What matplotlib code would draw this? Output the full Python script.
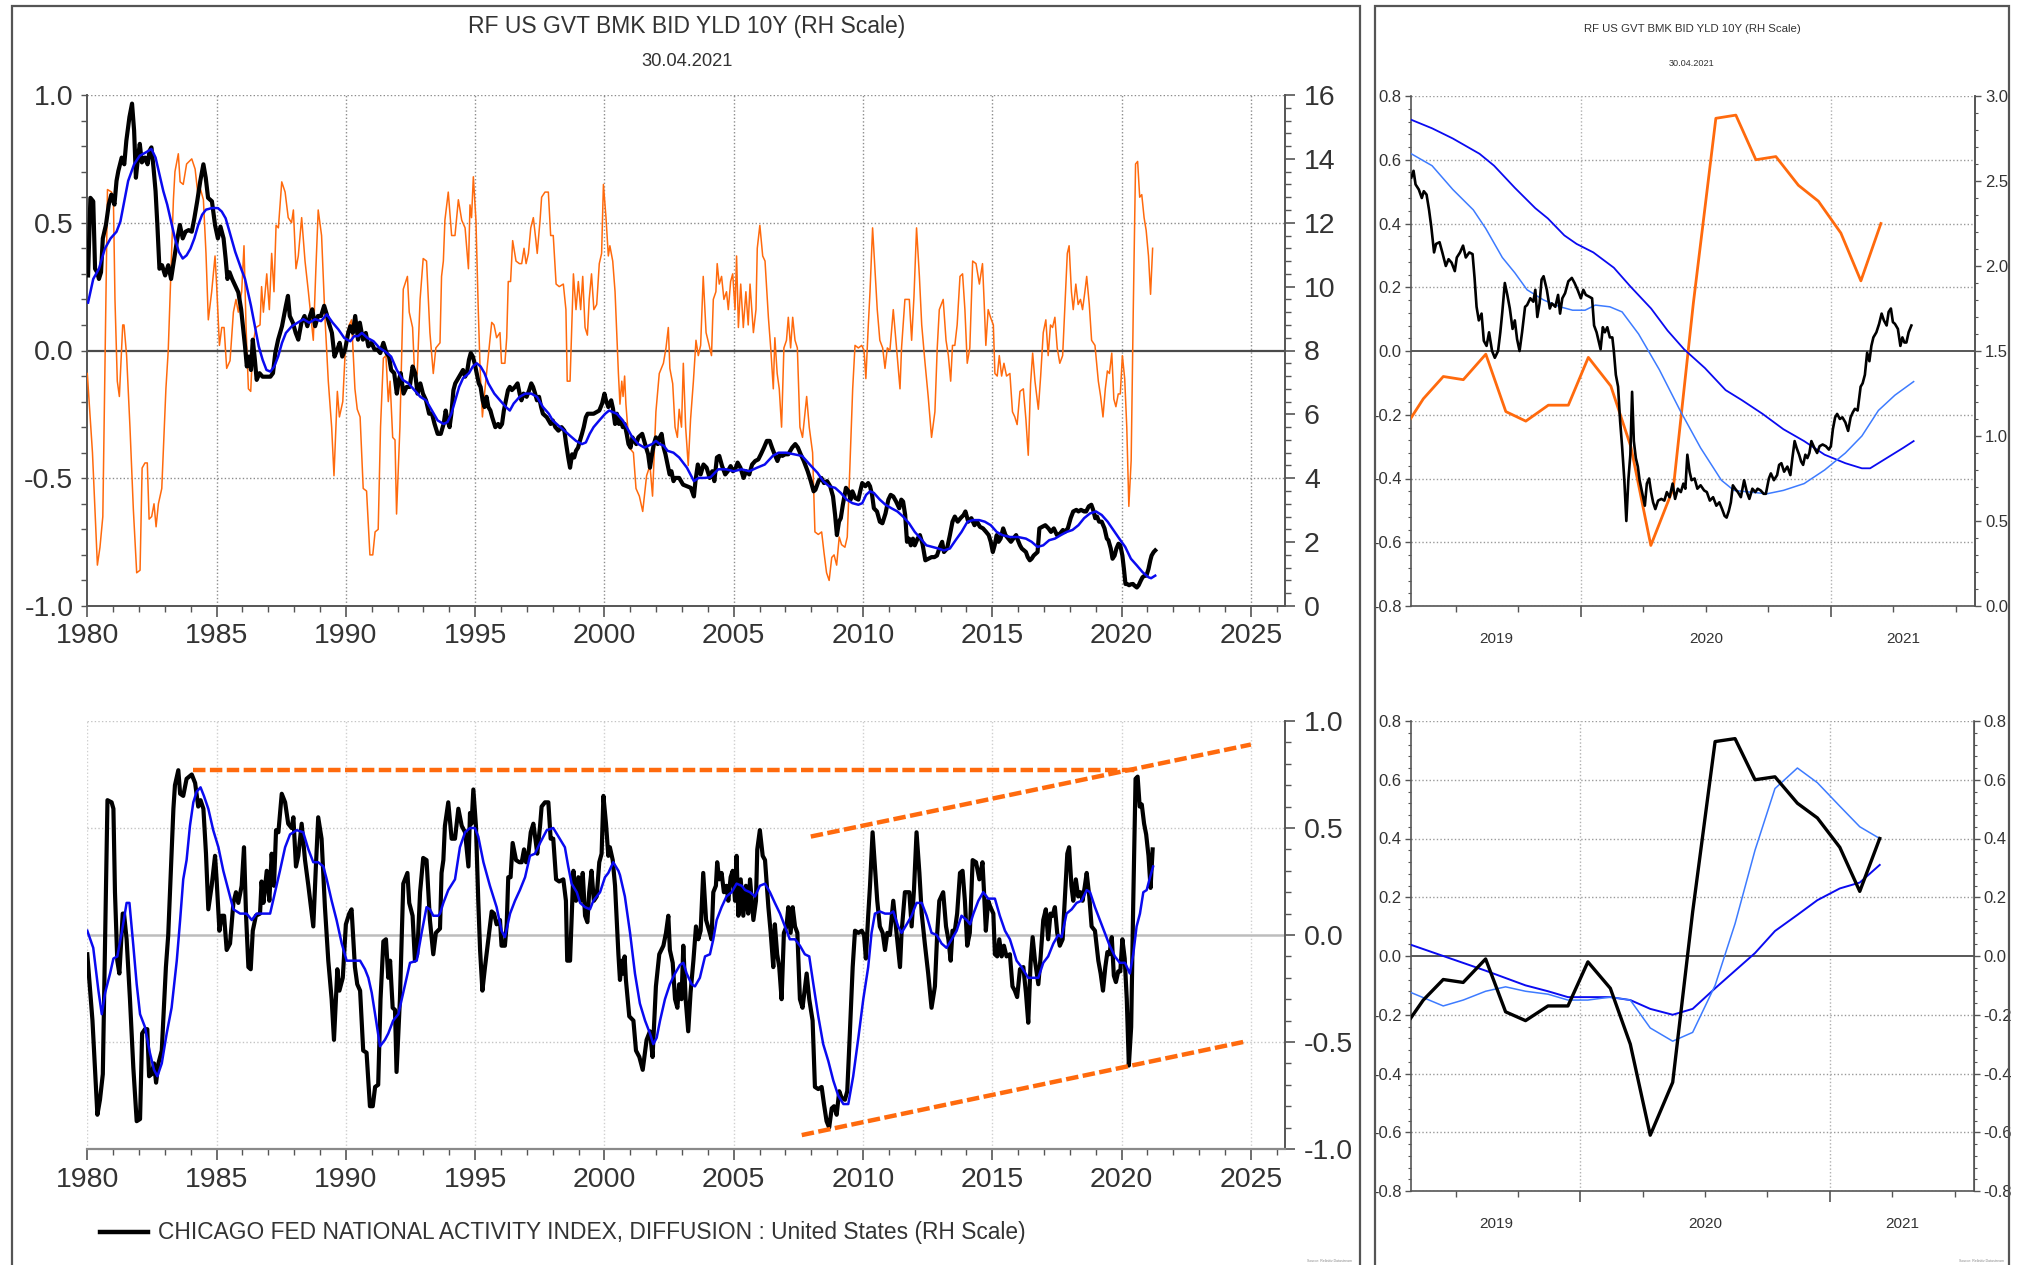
import matplotlib
matplotlib.use('Agg')
import matplotlib.pyplot as plt
from matplotlib.patches import Rectangle
from matplotlib.ticker import MultipleLocator, FixedLocator, NullFormatter

# ---------------- data ----------------
# Chicago Fed National Activity Index, diffusion (decimal year, value)
cfnai = [
    (1980.00, -0.09), (1980.20, -0.40), (1980.39, -0.84), (1980.49, -0.77), (1980.60, -0.65),
    (1980.78, 0.63), (1980.94, 0.62), (1981.01, 0.59), (1981.07, 0.20), (1981.16, -0.12),
    (1981.24, -0.18), (1981.29, -0.07), (1981.37, 0.10), (1981.42, 0.10), (1981.52, -0.02),
    (1981.65, -0.30), (1981.78, -0.62), (1981.91, -0.87), (1982.04, -0.86), (1982.12, -0.46),
    (1982.23, -0.44), (1982.32, -0.44), (1982.39, -0.66), (1982.49, -0.65), (1982.58, -0.60),
    (1982.66, -0.69), (1982.75, -0.60), (1982.88, -0.54), (1983.04, -0.15), (1983.13, 0.00),
    (1983.22, 0.27), (1983.33, 0.59), (1983.39, 0.70), (1983.52, 0.77), (1983.59, 0.66),
    (1983.71, 0.65), (1983.84, 0.73), (1984.04, 0.75), (1984.17, 0.71), (1984.29, 0.60),
    (1984.38, 0.63), (1984.49, 0.59), (1984.59, 0.38), (1984.68, 0.12), (1984.81, 0.23),
    (1984.94, 0.37), (1985.00, 0.26), (1985.11, 0.02), (1985.20, 0.09), (1985.29, 0.09),
    (1985.39, -0.07), (1985.52, -0.04), (1985.65, 0.15), (1985.75, 0.20), (1985.84, 0.15),
    (1985.97, 0.23), (1986.06, 0.41), (1986.14, 0.09), (1986.23, -0.15), (1986.32, -0.16),
    (1986.40, 0.02), (1986.52, 0.09), (1986.68, 0.10), (1986.74, 0.25), (1986.81, 0.15),
    (1986.94, 0.30), (1987.04, 0.16), (1987.13, 0.38), (1987.22, 0.23), (1987.30, 0.49),
    (1987.39, 0.48), (1987.52, 0.66), (1987.65, 0.62), (1987.77, 0.52), (1987.90, 0.50),
    (1987.97, 0.55), (1988.07, 0.32), (1988.16, 0.37), (1988.29, 0.52), (1988.42, 0.35),
    (1988.55, 0.23), (1988.74, 0.04), (1988.84, 0.32), (1988.93, 0.55), (1989.06, 0.45),
    (1989.19, 0.13), (1989.32, -0.12), (1989.45, -0.30), (1989.54, -0.49), (1989.67, -0.16),
    (1989.75, -0.26), (1989.88, -0.20), (1990.00, 0.05), (1990.13, 0.10), (1990.22, 0.12),
    (1990.35, -0.15), (1990.44, -0.23), (1990.55, -0.26), (1990.67, -0.54), (1990.80, -0.55),
    (1990.93, -0.80), (1991.04, -0.80), (1991.13, -0.71), (1991.25, -0.70), (1991.34, -0.30),
    (1991.45, -0.03), (1991.55, -0.02), (1991.64, -0.20), (1991.71, -0.12), (1991.81, -0.34),
    (1991.90, -0.35), (1991.96, -0.64), (1992.09, -0.30), (1992.22, 0.24), (1992.38, 0.29),
    (1992.45, 0.15), (1992.58, 0.09), (1992.67, -0.12), (1992.76, -0.09), (1992.87, 0.20),
    (1992.99, 0.36), (1993.12, 0.35), (1993.25, 0.07), (1993.38, -0.09), (1993.48, 0.01),
    (1993.64, 0.03), (1993.70, 0.29), (1993.77, 0.35), (1993.83, 0.51), (1993.96, 0.62),
    (1994.09, 0.45), (1994.22, 0.45), (1994.35, 0.59), (1994.48, 0.51), (1994.61, 0.48),
    (1994.74, 0.32), (1994.80, 0.57), (1994.86, 0.52), (1994.93, 0.68), (1995.03, 0.51),
    (1995.12, 0.16), (1995.19, -0.07), (1995.28, -0.26), (1995.38, -0.15), (1995.51, -0.02),
    (1995.64, 0.11), (1995.73, 0.10), (1995.83, 0.05), (1995.96, 0.07), (1996.02, -0.05),
    (1996.15, -0.05), (1996.22, 0.05), (1996.28, 0.27), (1996.37, 0.27), (1996.45, 0.43),
    (1996.58, 0.35), (1996.71, 0.34), (1996.80, 0.34), (1996.89, 0.40), (1996.97, 0.34),
    (1997.06, 0.38), (1997.15, 0.48), (1997.25, 0.52), (1997.35, 0.43), (1997.40, 0.38),
    (1997.51, 0.51), (1997.57, 0.60), (1997.70, 0.62), (1997.83, 0.62), (1997.92, 0.45),
    (1998.02, 0.45), (1998.13, 0.26), (1998.25, 0.25), (1998.41, 0.26), (1998.51, 0.16),
    (1998.56, -0.12), (1998.67, -0.12), (1998.80, 0.30), (1998.90, 0.16), (1998.99, 0.27),
    (1999.08, 0.16), (1999.16, 0.29), (1999.25, 0.09), (1999.34, 0.06), (1999.41, 0.20),
    (1999.50, 0.30), (1999.59, 0.16), (1999.70, 0.18), (1999.80, 0.34), (1999.89, 0.38),
    (1999.96, 0.65), (2000.06, 0.52), (2000.15, 0.37), (2000.21, 0.41), (2000.32, 0.35),
    (2000.41, 0.23), (2000.54, -0.09), (2000.60, -0.21), (2000.67, -0.12), (2000.72, -0.18),
    (2000.78, -0.10), (2000.83, -0.21), (2000.96, -0.38), (2001.12, -0.40), (2001.22, -0.54),
    (2001.35, -0.57), (2001.48, -0.63), (2001.63, -0.49), (2001.76, -0.45), (2001.86, -0.57),
    (2001.99, -0.24), (2002.12, -0.09), (2002.28, -0.05), (2002.38, 0.01), (2002.47, 0.09),
    (2002.53, -0.07), (2002.64, -0.13), (2002.73, -0.30), (2002.82, -0.34), (2002.89, -0.23),
    (2002.98, -0.30), (2003.05, -0.05), (2003.14, -0.30), (2003.24, -0.45), (2003.33, -0.27),
    (2003.44, -0.12), (2003.54, 0.04), (2003.63, -0.02), (2003.72, 0.02), (2003.82, 0.29),
    (2003.93, 0.07), (2004.05, 0.02), (2004.14, -0.02), (2004.21, 0.20), (2004.31, 0.23),
    (2004.36, 0.34), (2004.44, 0.26), (2004.53, 0.29), (2004.62, 0.20), (2004.72, 0.23),
    (2004.79, 0.16), (2004.88, 0.27), (2004.96, 0.30), (2005.05, 0.16), (2005.11, 0.37),
    (2005.18, 0.09), (2005.27, 0.26), (2005.37, 0.09), (2005.47, 0.23), (2005.56, 0.10),
    (2005.63, 0.26), (2005.76, 0.07), (2005.86, 0.16), (2005.91, 0.40), (2006.01, 0.49),
    (2006.12, 0.37), (2006.21, 0.35), (2006.34, 0.13), (2006.43, 0.01), (2006.53, -0.15),
    (2006.59, 0.05), (2006.68, -0.09), (2006.76, -0.15), (2006.85, -0.30), (2006.94, 0.01),
    (2007.04, 0.04), (2007.11, 0.13), (2007.20, 0.01), (2007.28, 0.13), (2007.37, 0.04),
    (2007.46, 0.01), (2007.56, -0.30), (2007.66, -0.34), (2007.82, -0.18), (2007.92, -0.30),
    (2008.05, -0.40), (2008.14, -0.71), (2008.27, -0.72), (2008.40, -0.71), (2008.49, -0.79),
    (2008.59, -0.87), (2008.69, -0.90), (2008.79, -0.81), (2008.88, -0.80), (2008.98, -0.84),
    (2009.08, -0.73), (2009.17, -0.76), (2009.30, -0.77), (2009.39, -0.73), (2009.49, -0.46),
    (2009.60, -0.15), (2009.69, 0.02), (2009.82, 0.01), (2009.95, 0.02), (2010.04, 0.00),
    (2010.11, -0.11), (2010.20, 0.09), (2010.27, 0.23), (2010.37, 0.48), (2010.46, 0.32),
    (2010.55, 0.16), (2010.65, 0.04), (2010.76, 0.01), (2010.85, -0.07), (2010.94, 0.01),
    (2011.04, 0.00), (2011.17, 0.16), (2011.27, 0.04), (2011.43, -0.15), (2011.49, 0.01),
    (2011.62, 0.20), (2011.79, 0.20), (2011.88, 0.04), (2011.97, 0.21), (2012.07, 0.48),
    (2012.18, 0.29), (2012.27, 0.10), (2012.39, -0.04), (2012.52, -0.18), (2012.65, -0.34),
    (2012.78, -0.24), (2012.87, 0.01), (2012.95, 0.16), (2013.10, 0.20), (2013.21, 0.04),
    (2013.30, -0.02), (2013.39, -0.12), (2013.46, 0.02), (2013.55, 0.02), (2013.64, 0.10),
    (2013.75, 0.29), (2013.85, 0.30), (2013.94, 0.16), (2014.03, -0.05), (2014.13, 0.01),
    (2014.24, 0.35), (2014.37, 0.34), (2014.50, 0.26), (2014.62, 0.34), (2014.68, 0.20),
    (2014.75, 0.02), (2014.84, 0.16), (2014.93, 0.13), (2015.04, 0.10), (2015.10, -0.09),
    (2015.19, -0.10), (2015.27, -0.02), (2015.36, -0.10), (2015.45, -0.05), (2015.55, -0.10),
    (2015.68, -0.09), (2015.78, -0.24), (2015.87, -0.26), (2015.96, -0.29), (2016.07, -0.16),
    (2016.20, -0.15), (2016.30, -0.27), (2016.39, -0.41), (2016.48, -0.13), (2016.56, -0.01),
    (2016.65, -0.12), (2016.78, -0.23), (2016.87, -0.10), (2016.97, 0.07), (2017.07, 0.12),
    (2017.16, -0.02), (2017.25, 0.10), (2017.33, 0.09), (2017.42, 0.13), (2017.51, 0.01),
    (2017.61, -0.05), (2017.72, -0.02), (2017.81, 0.18), (2017.90, 0.38), (2017.97, 0.41),
    (2018.06, 0.23), (2018.13, 0.16), (2018.23, 0.26), (2018.32, 0.18), (2018.41, 0.20),
    (2018.49, 0.16), (2018.58, 0.23), (2018.65, 0.29), (2018.75, 0.18), (2018.84, 0.04),
    (2018.97, 0.02), (2019.10, -0.12), (2019.19, -0.18), (2019.28, -0.26), (2019.37, -0.15),
    (2019.45, -0.08), (2019.53, -0.09), (2019.62, -0.01), (2019.70, -0.19), (2019.78, -0.22),
    (2019.87, -0.17), (2019.95, -0.17), (2020.03, -0.02), (2020.12, -0.11), (2020.20, -0.30),
    (2020.28, -0.61), (2020.37, -0.43), (2020.45, 0.15), (2020.54, 0.73), (2020.62, 0.74),
    (2020.70, 0.60), (2020.78, 0.61), (2020.87, 0.52), (2020.95, 0.47), (2021.04, 0.37),
    (2021.12, 0.22), (2021.20, 0.40),
]

# blue smoothed line of the lower-left panel
cfnai_ma = [
    (1980.00, 0.02), (1980.23, -0.06), (1980.43, -0.26), (1980.56, -0.37), (1980.69, -0.27),
    (1980.88, -0.18), (1981.01, -0.11), (1981.16, -0.10), (1981.33, 0.01), (1981.52, 0.15),
    (1981.63, 0.15), (1981.78, -0.05), (1981.91, -0.23), (1982.04, -0.37), (1982.23, -0.43),
    (1982.42, -0.55), (1982.58, -0.63), (1982.71, -0.66), (1982.88, -0.60), (1983.07, -0.46),
    (1983.26, -0.34), (1983.46, -0.12), (1983.59, 0.07), (1983.71, 0.26), (1983.84, 0.35),
    (1983.97, 0.51), (1984.10, 0.62), (1984.23, 0.67), (1984.38, 0.69), (1984.51, 0.65),
    (1984.68, 0.59), (1984.87, 0.49), (1985.07, 0.41), (1985.26, 0.30), (1985.39, 0.24),
    (1985.52, 0.18), (1985.65, 0.12), (1985.91, 0.10), (1986.16, 0.10), (1986.36, 0.07),
    (1986.55, 0.10), (1986.87, 0.10), (1987.07, 0.10), (1987.26, 0.20), (1987.45, 0.30),
    (1987.65, 0.41), (1987.84, 0.47), (1988.10, 0.49), (1988.35, 0.48), (1988.55, 0.40),
    (1988.74, 0.34), (1988.93, 0.34), (1989.13, 0.32), (1989.26, 0.26), (1989.45, 0.16),
    (1989.64, 0.07), (1989.84, -0.04), (1990.03, -0.12), (1990.29, -0.12), (1990.55, -0.12),
    (1990.74, -0.16), (1990.87, -0.20), (1991.00, -0.27), (1991.13, -0.37), (1991.32, -0.52),
    (1991.51, -0.49), (1991.64, -0.46), (1991.83, -0.40), (1992.03, -0.37), (1992.16, -0.30),
    (1992.29, -0.23), (1992.48, -0.13), (1992.74, -0.12), (1992.93, 0.01), (1993.12, 0.13),
    (1993.25, 0.12), (1993.38, 0.09), (1993.57, 0.09), (1993.64, 0.10), (1993.77, 0.15),
    (1993.96, 0.21), (1994.22, 0.26), (1994.41, 0.41), (1994.61, 0.48), (1994.80, 0.50),
    (1994.99, 0.50), (1995.12, 0.46), (1995.32, 0.34), (1995.57, 0.23), (1995.83, 0.13),
    (1996.02, 0.02), (1996.15, -0.01), (1996.35, 0.10), (1996.54, 0.16), (1996.73, 0.21),
    (1996.93, 0.27), (1997.12, 0.37), (1997.31, 0.38), (1997.51, 0.43), (1997.77, 0.49),
    (1998.02, 0.50), (1998.22, 0.46), (1998.47, 0.41), (1998.60, 0.32), (1998.73, 0.24),
    (1998.93, 0.20), (1999.06, 0.15), (1999.25, 0.13), (1999.44, 0.12), (1999.57, 0.16),
    (1999.83, 0.20), (2000.02, 0.27), (2000.15, 0.29), (2000.34, 0.34), (2000.54, 0.30),
    (2000.60, 0.28), (2000.79, 0.18), (2000.99, 0.01), (2001.18, -0.18), (2001.37, -0.32),
    (2001.57, -0.40), (2001.76, -0.46), (2001.89, -0.51), (2002.02, -0.48), (2002.15, -0.40),
    (2002.34, -0.30), (2002.53, -0.23), (2002.73, -0.18), (2002.92, -0.14), (2003.05, -0.13),
    (2003.18, -0.18), (2003.37, -0.23), (2003.50, -0.24), (2003.69, -0.20), (2003.89, -0.10),
    (2004.08, -0.09), (2004.21, -0.02), (2004.34, 0.07), (2004.53, 0.13), (2004.72, 0.18),
    (2004.92, 0.20), (2005.11, 0.24), (2005.31, 0.23), (2005.44, 0.21), (2005.63, 0.20),
    (2005.82, 0.18), (2006.01, 0.23), (2006.21, 0.24), (2006.40, 0.20), (2006.59, 0.15),
    (2006.79, 0.10), (2006.98, 0.04), (2007.17, -0.02), (2007.37, -0.02), (2007.56, -0.05),
    (2007.75, -0.09), (2007.92, -0.10), (2008.08, -0.23), (2008.27, -0.38), (2008.46, -0.51),
    (2008.66, -0.59), (2008.85, -0.68), (2009.04, -0.75), (2009.24, -0.79), (2009.43, -0.79),
    (2009.62, -0.66), (2009.82, -0.48), (2010.01, -0.30), (2010.20, -0.15), (2010.33, 0.01),
    (2010.46, 0.10), (2010.65, 0.11), (2010.85, 0.10), (2011.04, 0.10), (2011.17, 0.11),
    (2011.36, 0.04), (2011.49, 0.01), (2011.69, 0.05), (2011.88, 0.09), (2012.07, 0.15),
    (2012.27, 0.15), (2012.46, 0.09), (2012.65, 0.01), (2012.85, 0.00), (2013.04, -0.04),
    (2013.23, -0.06), (2013.43, -0.02), (2013.62, 0.02), (2013.81, 0.09), (2014.01, 0.07),
    (2014.14, 0.05), (2014.27, 0.10), (2014.46, 0.16), (2014.65, 0.20), (2014.84, 0.17),
    (2015.10, 0.17), (2015.29, 0.09), (2015.49, 0.02), (2015.68, -0.02), (2015.94, -0.12),
    (2016.13, -0.15), (2016.39, -0.20), (2016.58, -0.20), (2016.78, -0.20), (2016.97, -0.13),
    (2017.16, -0.10), (2017.36, -0.04), (2017.55, 0.00), (2017.68, -0.01), (2017.87, 0.10),
    (2018.07, 0.12), (2018.26, 0.15), (2018.45, 0.16), (2018.65, 0.21), (2018.78, 0.20),
    (2018.97, 0.13), (2019.16, 0.07), (2019.35, 0.01), (2019.54, -0.05), (2019.74, -0.10),
    (2019.93, -0.13), (2020.13, -0.13), (2020.32, -0.18), (2020.45, -0.09), (2020.58, 0.04),
    (2020.71, 0.10), (2020.84, 0.20), (2020.97, 0.21), (2021.10, 0.27), (2021.22, 0.32),
]

# US 10Y benchmark yield, % (upper-left panel, RH scale)
yld = [
    (1980.03, 10.35), (1980.12, 12.78), (1980.23, 12.67), (1980.30, 10.56), (1980.38, 10.45),
    (1980.45, 10.24), (1980.53, 10.45), (1980.60, 11.51), (1980.72, 11.93), (1980.83, 12.57),
    (1980.93, 12.88), (1981.05, 12.57), (1981.13, 13.31), (1981.20, 13.62), (1981.33, 14.04),
    (1981.43, 13.83), (1981.51, 14.57), (1981.63, 15.31), (1981.73, 15.73), (1981.81, 14.89),
    (1981.88, 13.41), (1981.96, 14.04), (1982.03, 14.47), (1982.11, 13.89), (1982.23, 14.04),
    (1982.33, 13.83), (1982.41, 14.26), (1982.48, 14.36), (1982.56, 13.73), (1982.64, 12.99),
    (1982.71, 11.93), (1982.79, 10.56), (1982.89, 10.67), (1983.01, 10.35), (1983.13, 10.67),
    (1983.24, 10.24), (1983.34, 10.77), (1983.46, 11.40), (1983.58, 11.93), (1983.69, 11.51),
    (1983.80, 11.72), (1983.92, 11.77), (1984.04, 11.72), (1984.14, 12.14), (1984.25, 12.67),
    (1984.37, 13.31), (1984.49, 13.83), (1984.58, 13.41), (1984.67, 12.78), (1984.82, 12.67),
    (1984.94, 11.93), (1985.05, 11.51), (1985.15, 11.88), (1985.27, 11.51), (1985.35, 10.88),
    (1985.42, 10.24), (1985.50, 10.45), (1985.60, 10.24), (1985.72, 10.03), (1985.84, 9.82),
    (1985.95, 9.29), (1986.02, 8.76), (1986.10, 8.13), (1986.17, 7.50), (1986.25, 7.81),
    (1986.33, 7.39), (1986.40, 8.34), (1986.48, 7.71), (1986.55, 7.08), (1986.66, 7.29),
    (1986.78, 7.18), (1986.93, 7.18), (1987.08, 7.18), (1987.18, 7.29), (1987.27, 7.92),
    (1987.38, 8.34), (1987.53, 8.76), (1987.68, 9.40), (1987.76, 9.71), (1987.83, 9.08),
    (1987.95, 8.87), (1988.06, 8.55), (1988.16, 8.34), (1988.28, 8.87), (1988.40, 9.08),
    (1988.51, 8.76), (1988.61, 9.08), (1988.70, 9.29), (1988.81, 8.76), (1988.92, 9.08),
    (1989.04, 9.08), (1989.16, 9.40), (1989.26, 9.13), (1989.34, 8.87), (1989.46, 8.55),
    (1989.56, 7.81), (1989.67, 8.03), (1989.76, 8.24), (1989.86, 7.81), (1989.97, 8.03),
    (1990.09, 8.55), (1990.17, 8.76), (1990.27, 8.55), (1990.36, 9.08), (1990.47, 8.34),
    (1990.54, 8.87), (1990.66, 8.34), (1990.77, 8.55), (1990.87, 8.13), (1990.99, 8.24),
    (1991.11, 8.03), (1991.22, 8.03), (1991.33, 7.92), (1991.45, 8.24), (1991.57, 7.92),
    (1991.67, 7.81), (1991.75, 7.39), (1991.87, 7.29), (1991.97, 6.65), (1992.05, 7.08),
    (1992.12, 7.29), (1992.23, 6.65), (1992.35, 6.86), (1992.47, 6.86), (1992.58, 7.50),
    (1992.68, 7.29), (1992.77, 6.65), (1992.88, 6.97), (1992.98, 6.65), (1993.10, 6.44),
    (1993.22, 6.02), (1993.33, 6.02), (1993.43, 5.70), (1993.55, 5.39), (1993.67, 5.39),
    (1993.78, 5.70), (1993.86, 6.12), (1993.93, 5.81), (1994.01, 5.60), (1994.08, 6.02),
    (1994.16, 6.76), (1994.23, 6.97), (1994.31, 7.08), (1994.38, 7.18), (1994.46, 7.29),
    (1994.53, 7.39), (1994.61, 7.18), (1994.68, 7.29), (1994.76, 7.71), (1994.83, 7.92),
    (1994.91, 7.81), (1994.98, 7.60), (1995.06, 7.29), (1995.14, 6.97), (1995.21, 6.86),
    (1995.29, 6.44), (1995.36, 6.23), (1995.44, 6.55), (1995.51, 6.23), (1995.59, 6.12),
    (1995.66, 5.91), (1995.78, 5.60), (1995.89, 5.70), (1995.96, 5.60), (1996.04, 5.70),
    (1996.11, 6.12), (1996.19, 6.44), (1996.27, 6.76), (1996.34, 6.86), (1996.42, 6.76),
    (1996.54, 6.86), (1996.64, 6.97), (1996.72, 6.65), (1996.79, 6.44), (1996.87, 6.65),
    (1996.99, 6.55), (1997.09, 6.76), (1997.17, 6.97), (1997.24, 6.86), (1997.32, 6.65),
    (1997.39, 6.44), (1997.47, 6.55), (1997.55, 6.23), (1997.62, 6.02), (1997.77, 5.91),
    (1997.92, 5.70), (1998.00, 5.81), (1998.10, 5.60), (1998.22, 5.49), (1998.34, 5.60),
    (1998.45, 5.49), (1998.52, 5.07), (1998.60, 4.65), (1998.67, 4.33), (1998.75, 4.75),
    (1998.83, 4.65), (1998.90, 4.86), (1998.98, 4.96), (1999.05, 5.17), (1999.13, 5.39),
    (1999.20, 5.60), (1999.28, 5.91), (1999.35, 6.02), (1999.58, 6.02), (1999.80, 6.12),
    (1999.91, 6.34), (2000.00, 6.65), (2000.06, 6.44), (2000.15, 6.23), (2000.26, 6.44),
    (2000.33, 6.18), (2000.41, 5.70), (2000.48, 6.02), (2000.56, 5.70), (2000.63, 5.81),
    (2000.71, 5.60), (2000.78, 5.70), (2000.86, 5.39), (2000.93, 5.07), (2001.01, 4.96),
    (2001.08, 5.28), (2001.23, 5.07), (2001.31, 5.28), (2001.46, 5.39), (2001.61, 4.96),
    (2001.69, 4.75), (2001.76, 4.33), (2001.84, 4.75), (2001.91, 5.07), (2001.99, 5.28),
    (2002.06, 5.07), (2002.14, 5.28), (2002.21, 5.39), (2002.29, 4.96), (2002.36, 4.75),
    (2002.44, 4.43), (2002.52, 4.12), (2002.59, 4.22), (2002.67, 3.91), (2002.74, 4.01),
    (2002.89, 4.01), (2003.04, 3.80), (2003.19, 3.75), (2003.34, 3.70), (2003.46, 3.43),
    (2003.52, 3.91), (2003.61, 4.43), (2003.72, 4.12), (2003.83, 4.43), (2003.95, 4.33),
    (2004.07, 4.01), (2004.17, 4.22), (2004.25, 3.91), (2004.35, 4.65), (2004.44, 4.70),
    (2004.55, 4.38), (2004.67, 4.12), (2004.77, 4.22), (2004.88, 4.38), (2004.97, 4.22),
    (2005.08, 4.33), (2005.15, 4.49), (2005.26, 4.33), (2005.38, 4.01), (2005.48, 4.22),
    (2005.60, 4.12), (2005.71, 4.43), (2005.83, 4.54), (2005.95, 4.59), (2006.05, 4.75),
    (2006.17, 4.96), (2006.28, 5.17), (2006.39, 5.17), (2006.48, 4.96), (2006.58, 4.75),
    (2006.69, 4.54), (2006.78, 4.75), (2006.88, 4.70), (2006.99, 4.75), (2007.11, 4.75),
    (2007.26, 4.96), (2007.38, 5.07), (2007.48, 4.96), (2007.59, 4.75), (2007.71, 4.54),
    (2007.86, 4.22), (2007.98, 3.91), (2008.09, 3.59), (2008.16, 3.64), (2008.28, 3.91),
    (2008.39, 4.01), (2008.49, 3.85), (2008.61, 3.91), (2008.73, 3.75), (2008.84, 3.43),
    (2008.92, 2.85), (2008.99, 2.22), (2009.07, 2.64), (2009.14, 2.75), (2009.22, 3.17),
    (2009.34, 3.70), (2009.44, 3.59), (2009.52, 3.33), (2009.59, 3.59), (2009.70, 3.38),
    (2009.82, 3.33), (2009.89, 3.59), (2009.97, 3.85), (2010.09, 3.75), (2010.20, 3.85),
    (2010.27, 3.75), (2010.35, 3.48), (2010.42, 3.06), (2010.54, 2.96), (2010.65, 2.64),
    (2010.75, 2.59), (2010.87, 2.90), (2010.98, 3.33), (2011.07, 3.48), (2011.17, 3.43),
    (2011.28, 3.27), (2011.40, 3.06), (2011.48, 3.33), (2011.55, 3.27), (2011.63, 2.85),
    (2011.70, 2.01), (2011.78, 2.11), (2011.85, 1.90), (2011.93, 2.11), (2012.00, 1.90),
    (2012.11, 2.11), (2012.20, 2.22), (2012.30, 1.95), (2012.41, 1.43), (2012.53, 1.48),
    (2012.65, 1.53), (2012.76, 1.53), (2012.86, 1.58), (2012.95, 1.80), (2013.06, 2.01),
    (2013.13, 1.69), (2013.25, 1.80), (2013.36, 2.22), (2013.46, 2.64), (2013.55, 2.80),
    (2013.66, 2.64), (2013.77, 2.75), (2013.89, 2.85), (2013.96, 2.96), (2014.07, 2.64),
    (2014.19, 2.75), (2014.31, 2.53), (2014.41, 2.64), (2014.52, 2.48), (2014.64, 2.43),
    (2014.76, 2.32), (2014.86, 2.22), (2014.94, 2.01), (2015.02, 1.69), (2015.09, 1.90),
    (2015.17, 2.22), (2015.24, 2.01), (2015.32, 2.11), (2015.42, 2.43), (2015.51, 2.22),
    (2015.62, 2.11), (2015.72, 2.01), (2015.81, 2.11), (2015.92, 2.22), (2015.99, 2.06),
    (2016.07, 1.90), (2016.14, 1.80), (2016.30, 1.69), (2016.37, 1.53), (2016.45, 1.43),
    (2016.52, 1.48), (2016.60, 1.58), (2016.75, 1.69), (2016.82, 2.43), (2016.93, 2.48),
    (2017.05, 2.53), (2017.17, 2.43), (2017.27, 2.32), (2017.38, 2.43), (2017.50, 2.22),
    (2017.62, 2.27), (2017.73, 2.38), (2017.80, 2.32), (2017.92, 2.43), (2018.03, 2.75),
    (2018.13, 2.96), (2018.25, 3.01), (2018.33, 2.96), (2018.43, 3.01), (2018.55, 2.96),
    (2018.63, 2.96), (2018.73, 3.12), (2018.83, 3.17), (2018.90, 3.01), (2018.98, 2.75),
    (2019.05, 2.80), (2019.13, 2.64), (2019.23, 2.64), (2019.34, 2.43), (2019.43, 2.11),
    (2019.49, 2.06), (2019.58, 1.80), (2019.65, 1.48), (2019.73, 1.58), (2019.80, 1.80),
    (2019.88, 1.95), (2019.95, 1.90), (2020.03, 1.58), (2020.09, 1.16), (2020.15, 0.69),
    (2020.21, 0.69), (2020.29, 0.65), (2020.36, 0.68), (2020.44, 0.69), (2020.51, 0.63),
    (2020.59, 0.58), (2020.66, 0.65), (2020.74, 0.79), (2020.81, 0.90), (2020.89, 0.95),
    (2020.96, 0.95), (2021.04, 1.16), (2021.11, 1.43), (2021.16, 1.58), (2021.24, 1.69),
    (2021.30, 1.74),
]

# blue smoothed yield (upper-left panel)
yld_ma = [
    (1980.03, 9.50), (1980.23, 10.24), (1980.45, 10.56), (1980.68, 11.19), (1980.90, 11.51),
    (1981.13, 11.72), (1981.28, 12.04), (1981.43, 12.67), (1981.58, 13.31), (1981.81, 13.83),
    (1982.03, 14.10), (1982.26, 14.20), (1982.48, 14.31), (1982.64, 14.04), (1982.79, 13.52),
    (1982.94, 12.99), (1983.09, 12.57), (1983.24, 12.04), (1983.39, 11.51), (1983.54, 11.09),
    (1983.69, 10.88), (1983.84, 10.98), (1983.99, 11.19), (1984.14, 11.51), (1984.29, 11.93),
    (1984.44, 12.25), (1984.59, 12.41), (1984.82, 12.46), (1985.05, 12.46), (1985.20, 12.35),
    (1985.35, 12.14), (1985.50, 11.72), (1985.72, 11.09), (1985.95, 10.56), (1986.10, 10.24),
    (1986.33, 9.40), (1986.48, 8.76), (1986.63, 8.13), (1986.78, 7.71), (1986.93, 7.39),
    (1987.08, 7.34), (1987.23, 7.50), (1987.38, 7.81), (1987.53, 8.24), (1987.68, 8.55),
    (1987.91, 8.76), (1988.13, 8.87), (1988.36, 8.98), (1988.58, 8.87), (1988.81, 8.98),
    (1989.04, 8.92), (1989.26, 9.13), (1989.49, 8.87), (1989.71, 8.66), (1989.94, 8.39),
    (1990.17, 8.29), (1990.32, 8.45), (1990.47, 8.45), (1990.62, 8.55), (1990.84, 8.39),
    (1991.07, 8.29), (1991.30, 8.08), (1991.52, 7.97), (1991.75, 7.81), (1991.97, 7.39),
    (1992.20, 7.08), (1992.42, 6.97), (1992.65, 6.76), (1992.88, 6.55), (1993.10, 6.44),
    (1993.33, 6.12), (1993.55, 5.81), (1993.78, 5.70), (1993.93, 5.76), (1994.08, 6.02),
    (1994.23, 6.44), (1994.38, 6.86), (1994.53, 7.13), (1994.76, 7.29), (1994.91, 7.50),
    (1995.06, 7.60), (1995.21, 7.50), (1995.36, 7.29), (1995.51, 6.97), (1995.74, 6.65),
    (1995.96, 6.44), (1996.19, 6.23), (1996.34, 6.12), (1996.49, 6.34), (1996.72, 6.55),
    (1996.94, 6.65), (1997.17, 6.65), (1997.39, 6.55), (1997.62, 6.23), (1997.85, 6.02),
    (1998.00, 5.81), (1998.22, 5.65), (1998.45, 5.49), (1998.67, 5.33), (1998.90, 5.17),
    (1999.13, 5.07), (1999.28, 5.12), (1999.43, 5.39), (1999.58, 5.60), (1999.80, 5.81),
    (2000.03, 6.02), (2000.18, 6.12), (2000.33, 6.07), (2000.48, 6.02), (2000.71, 5.81),
    (2000.86, 5.60), (2001.08, 5.28), (2001.31, 5.07), (2001.54, 4.96), (2001.84, 5.07),
    (2001.99, 5.17), (2002.14, 5.07), (2002.29, 5.02), (2002.44, 4.86), (2002.67, 4.80),
    (2002.89, 4.65), (2003.19, 4.33), (2003.46, 3.91), (2003.64, 4.01), (2003.87, 4.01),
    (2004.10, 4.03), (2004.40, 4.28), (2004.70, 4.28), (2005.00, 4.22), (2005.30, 4.28),
    (2005.60, 4.22), (2005.90, 4.33), (2006.20, 4.43), (2006.51, 4.70), (2006.73, 4.80),
    (2007.03, 4.80), (2007.33, 4.75), (2007.64, 4.70), (2007.94, 4.43), (2008.24, 4.17),
    (2008.46, 3.91), (2008.69, 3.75), (2008.92, 3.70), (2009.14, 3.54), (2009.37, 3.33),
    (2009.59, 3.22), (2009.82, 3.17), (2009.97, 3.22), (2010.12, 3.48), (2010.27, 3.59),
    (2010.42, 3.54), (2010.65, 3.33), (2010.87, 3.17), (2011.10, 3.06), (2011.33, 2.96),
    (2011.55, 2.80), (2011.78, 2.59), (2012.00, 2.32), (2012.23, 2.11), (2012.45, 1.90),
    (2012.68, 1.85), (2012.91, 1.80), (2013.13, 1.74), (2013.36, 1.80), (2013.58, 2.06),
    (2013.81, 2.32), (2014.04, 2.64), (2014.26, 2.69), (2014.49, 2.69), (2014.71, 2.64),
    (2014.94, 2.53), (2015.17, 2.32), (2015.39, 2.22), (2015.69, 2.16), (2015.99, 2.16),
    (2016.30, 2.11), (2016.52, 2.01), (2016.75, 1.85), (2016.97, 1.90), (2017.20, 2.06),
    (2017.42, 2.11), (2017.65, 2.22), (2017.88, 2.32), (2018.10, 2.38), (2018.33, 2.53),
    (2018.55, 2.75), (2018.78, 2.90), (2019.01, 2.96), (2019.23, 2.85), (2019.46, 2.64),
    (2019.68, 2.38), (2019.91, 2.11), (2020.14, 1.85), (2020.36, 1.48), (2020.59, 1.27),
    (2020.81, 1.06), (2021.04, 0.90), (2021.14, 0.87), (2021.30, 0.95),
]

# daily 10Y yield, upper-right panel (RH scale)
yld_daily = [
    (2019.322, 2.52), (2019.331, 2.56), (2019.339, 2.48), (2019.352, 2.45), (2019.364, 2.40),
    (2019.372, 2.44), (2019.383, 2.42), (2019.393, 2.33), (2019.402, 2.23), (2019.413, 2.08),
    (2019.421, 2.13), (2019.435, 2.14), (2019.446, 2.08), (2019.460, 2.00), (2019.471, 2.04),
    (2019.483, 2.02), (2019.496, 1.97), (2019.504, 2.05), (2019.517, 2.08), (2019.529, 2.12),
    (2019.540, 2.05), (2019.554, 2.08), (2019.567, 2.07), (2019.575, 1.93), (2019.583, 1.76),
    (2019.592, 1.68), (2019.603, 1.72), (2019.612, 1.56), (2019.623, 1.53), (2019.633, 1.61),
    (2019.645, 1.50), (2019.656, 1.46), (2019.669, 1.50), (2019.678, 1.61), (2019.686, 1.73),
    (2019.696, 1.90), (2019.706, 1.83), (2019.716, 1.75), (2019.727, 1.63), (2019.736, 1.68),
    (2019.745, 1.57), (2019.755, 1.50), (2019.765, 1.61), (2019.777, 1.76), (2019.785, 1.77),
    (2019.798, 1.81), (2019.810, 1.79), (2019.818, 1.86), (2019.826, 1.70), (2019.835, 1.78),
    (2019.843, 1.92), (2019.851, 1.94), (2019.864, 1.86), (2019.876, 1.75), (2019.884, 1.78),
    (2019.898, 1.76), (2019.909, 1.83), (2019.917, 1.72), (2019.926, 1.81), (2019.937, 1.84),
    (2019.950, 1.91), (2019.964, 1.93), (2019.975, 1.90), (2019.987, 1.86), (2020.000, 1.81),
    (2020.010, 1.86), (2020.020, 1.83), (2020.033, 1.82), (2020.045, 1.81), (2020.053, 1.65),
    (2020.063, 1.61), (2020.071, 1.56), (2020.079, 1.51), (2020.088, 1.64), (2020.096, 1.61),
    (2020.106, 1.64), (2020.116, 1.58), (2020.126, 1.58), (2020.132, 1.50), (2020.140, 1.36),
    (2020.149, 1.29), (2020.157, 1.09), (2020.165, 0.94), (2020.174, 0.74), (2020.182, 0.50),
    (2020.190, 0.74), (2020.198, 0.89), (2020.205, 1.26), (2020.212, 0.97), (2020.220, 0.87),
    (2020.228, 0.82), (2020.235, 0.74), (2020.245, 0.67), (2020.256, 0.59), (2020.264, 0.72),
    (2020.273, 0.75), (2020.281, 0.67), (2020.289, 0.61), (2020.298, 0.57), (2020.309, 0.62),
    (2020.322, 0.63), (2020.334, 0.62), (2020.344, 0.67), (2020.355, 0.64), (2020.367, 0.72),
    (2020.377, 0.63), (2020.388, 0.69), (2020.400, 0.67), (2020.410, 0.72), (2020.418, 0.69),
    (2020.426, 0.89), (2020.435, 0.79), (2020.443, 0.74), (2020.455, 0.75), (2020.466, 0.69),
    (2020.479, 0.71), (2020.493, 0.68), (2020.504, 0.67), (2020.516, 0.62), (2020.529, 0.64),
    (2020.542, 0.59), (2020.554, 0.61), (2020.565, 0.57), (2020.575, 0.53), (2020.583, 0.52),
    (2020.592, 0.56), (2020.600, 0.61), (2020.608, 0.71), (2020.617, 0.69), (2020.628, 0.67),
    (2020.640, 0.64), (2020.653, 0.74), (2020.664, 0.67), (2020.674, 0.63), (2020.686, 0.69),
    (2020.698, 0.67), (2020.707, 0.69), (2020.719, 0.68), (2020.731, 0.66), (2020.740, 0.66),
    (2020.752, 0.75), (2020.760, 0.78), (2020.772, 0.74), (2020.785, 0.77), (2020.793, 0.83),
    (2020.802, 0.84), (2020.813, 0.79), (2020.826, 0.82), (2020.838, 0.77), (2020.846, 0.87),
    (2020.855, 0.97), (2020.863, 0.93), (2020.873, 0.89), (2020.881, 0.85), (2020.889, 0.83),
    (2020.898, 0.89), (2020.906, 0.87), (2020.914, 0.90), (2020.922, 0.97), (2020.934, 0.93),
    (2020.945, 0.90), (2020.955, 0.94), (2020.967, 0.95), (2020.980, 0.94), (2020.992, 0.92),
    (2021.000, 0.94), (2021.008, 1.04), (2021.017, 1.11), (2021.025, 1.13), (2021.036, 1.10),
    (2021.046, 1.11), (2021.058, 1.08), (2021.069, 1.03), (2021.079, 1.11), (2021.088, 1.14),
    (2021.096, 1.16), (2021.107, 1.15), (2021.119, 1.29), (2021.127, 1.31), (2021.136, 1.36),
    (2021.145, 1.49), (2021.154, 1.44), (2021.162, 1.53), (2021.170, 1.58), (2021.182, 1.61),
    (2021.193, 1.66), (2021.203, 1.72), (2021.212, 1.68), (2021.223, 1.65), (2021.231, 1.73),
    (2021.240, 1.75), (2021.248, 1.67), (2021.256, 1.66), (2021.268, 1.63), (2021.278, 1.53),
    (2021.286, 1.58), (2021.294, 1.55), (2021.302, 1.55), (2021.311, 1.61), (2021.322, 1.65),
]

# smoothed yields, upper-right panel
yld_ma_long = [
    (2019.322, 2.86), (2019.405, 2.81), (2019.488, 2.75), (2019.595, 2.66), (2019.653, 2.59),
    (2019.736, 2.46), (2019.818, 2.34), (2019.868, 2.28), (2019.934, 2.18), (2019.983, 2.13),
    (2020.050, 2.08), (2020.132, 1.99), (2020.198, 1.88), (2020.281, 1.75), (2020.347, 1.62),
    (2020.413, 1.51), (2020.496, 1.40), (2020.579, 1.27), (2020.645, 1.21), (2020.727, 1.13),
    (2020.810, 1.04), (2020.893, 0.97), (2020.975, 0.89), (2021.058, 0.84), (2021.124, 0.81),
    (2021.157, 0.81), (2021.223, 0.87), (2021.289, 0.93), (2021.331, 0.97),
]
yld_ma_short = [
    (2019.322, 2.66), (2019.405, 2.59), (2019.488, 2.45), (2019.570, 2.33), (2019.620, 2.22),
    (2019.686, 2.05), (2019.736, 1.96), (2019.785, 1.86), (2019.851, 1.80), (2019.917, 1.76),
    (2019.967, 1.74), (2020.017, 1.74), (2020.058, 1.77), (2020.116, 1.76), (2020.165, 1.73),
    (2020.231, 1.60), (2020.314, 1.39), (2020.397, 1.15), (2020.479, 0.93), (2020.562, 0.74),
    (2020.612, 0.68), (2020.678, 0.67), (2020.744, 0.66), (2020.810, 0.68), (2020.893, 0.72),
    (2020.975, 0.80), (2021.058, 0.90), (2021.124, 1.00), (2021.190, 1.15), (2021.256, 1.24),
    (2021.331, 1.32),
]

# smoothed CFNAI, lower-right panel
cfnai_ma_long = [
    (2019.28, 0.05), (2019.45, 0.00), (2019.62, -0.05), (2019.78, -0.10), (2019.87, -0.12),
    (2019.95, -0.14), (2020.03, -0.14), (2020.12, -0.14), (2020.20, -0.15), (2020.28, -0.18),
    (2020.37, -0.20), (2020.45, -0.18), (2020.54, -0.11), (2020.62, -0.05), (2020.70, 0.01),
    (2020.78, 0.085), (2020.87, 0.14), (2020.95, 0.19), (2021.04, 0.23), (2021.12, 0.25),
    (2021.20, 0.31),
]
cfnai_ma_short = [
    (2019.28, -0.11), (2019.45, -0.17), (2019.53, -0.15), (2019.62, -0.12), (2019.70, -0.105),
    (2019.78, -0.12), (2019.87, -0.13), (2019.95, -0.15), (2020.03, -0.15), (2020.12, -0.14),
    (2020.20, -0.15), (2020.28, -0.245), (2020.37, -0.29), (2020.45, -0.26), (2020.54, -0.10),
    (2020.62, 0.11), (2020.70, 0.36), (2020.78, 0.57), (2020.87, 0.64), (2020.95, 0.59),
    (2021.04, 0.51), (2021.12, 0.44), (2021.20, 0.40),
]

# hand-drawn trend lines of the lower-left panel
trend_flat = [(1984.10, 0.77), (2020.58, 0.77)]
trend_upper = [(2007.98, 0.46), (2025.00, 0.89)]
trend_lower = [(2007.63, -0.935), (2024.70, -0.50)]

left_ticks = [-1.0, -0.5, 0.0, 0.5, 1.0]
yield_ticks = [0, 2, 4, 6, 8, 10, 12, 14, 16]
year_ticks = [1980, 1985, 1990, 1995, 2000, 2005, 2010, 2015, 2020, 2025]
zoom_left_ticks = [-0.8, -0.6, -0.4, -0.2, 0.0, 0.2, 0.4, 0.6, 0.8]
zoom_yield_ticks = [0.0, 0.5, 1.0, 1.5, 2.0, 2.5, 3.0]
zoom_years = ['2019', '2020', '2021']

title_text = 'RF US GVT BMK BID YLD 10Y (RH Scale)'
date_text = '30.04.2021'
legend_text = 'CHICAGO FED NATIONAL ACTIVITY INDEX, DIFFUSION : United States (RH Scale)'
source_text = 'Source: Refinitiv Datastream'

# ---------------- styling ----------------
plt.rcParams['font.family'] = ['Liberation Sans Narrow', 'Liberation Sans', 'DejaVu Sans']
plt.rcParams['axes.unicode_minus'] = False

W, H = 2018, 1265
fig = plt.figure(figsize=(W / 100, H / 100), dpi=100)
fig.patch.set_facecolor('white')

TXT = '#333333'
SPINE = '#555555'
BLUE = '#0a0af0'
LBLUE = '#3d7bff'
ORANGE = '#ff6a0d'


def unzip(pairs):
    return [p[0] for p in pairs], [p[1] for p in pairs]


def axes_px(l, t, r, b):
    return fig.add_axes([l / W, 1 - b / H, (r - l) / W, (b - t) / H])


def grid_h(ax, ys, color, lw=1.0):
    for y in ys:
        ax.axhline(y, color=color, lw=lw, ls=(0, (1, 1.6)), zorder=1)


def grid_v(ax, xs, color, lw=1.0):
    for x in xs:
        ax.axvline(x, color=color, lw=lw, ls=(0, (1, 1.6)), zorder=1)


cf_t, cf_v = unzip(cfnai)
cfm_t, cfm_v = unzip(cfnai_ma)
y_t, y_v = unzip(yld)
ym_t, ym_v = unzip(yld_ma)
yd_t, yd_v = unzip(yld_daily)
yl_t, yl_v = unzip(yld_ma_long)
ys_t, ys_v = unzip(yld_ma_short)
cl_t, cl_v = unzip(cfnai_ma_long)
cs_t, cs_v = unzip(cfnai_ma_short)

BIG = 20.5
# ================= upper-left =================
ax1 = axes_px(87.3, 95, 1284.5, 606)
ax1.set_xlim(1980, 2026.3)
ax1.set_ylim(-1, 1)
grid_h(ax1, [0.5, -0.5, 1.0], '#8c8c8c')
grid_v(ax1, year_ticks[1:], '#8c8c8c')
ax1.axhline(0, color='#4a4a4a', lw=1.6, zorder=2)
ax1.plot(cf_t, cf_v, color=ORANGE, lw=1.1, zorder=3)
ax1.set_yticks(left_ticks)
ax1.set_yticklabels([f'{v:.1f}' for v in left_ticks])
ax1.yaxis.set_minor_locator(MultipleLocator(0.1))
ax1.set_xticks(year_ticks)
ax1.set_xticklabels([str(v) for v in year_ticks])
ax1.xaxis.set_minor_locator(MultipleLocator(1))
ax1.tick_params(axis='y', which='both', direction='out', length=4, width=1, color=SPINE,
                labelsize=BIG, labelcolor=TXT, pad=6)
ax1.tick_params(axis='x', which='major', direction='out', length=8, width=1.2, color=SPINE,
                labelsize=BIG, labelcolor=TXT, pad=4)
ax1.tick_params(axis='x', which='minor', direction='out', length=4, width=1, color=SPINE)
for s in ('top', 'right'):
    ax1.spines[s].set_visible(False)
for s in ('left', 'bottom'):
    ax1.spines[s].set_color(SPINE)
    ax1.spines[s].set_linewidth(1.4)

ax1b = ax1.twinx()
ax1b.set_ylim(0, 16)
ax1b.plot(y_t, y_v, color='black', lw=3.0, zorder=4, solid_joinstyle='round')
ax1b.plot(ym_t, ym_v, color=BLUE, lw=1.8, zorder=5)
ax1b.set_yticks(yield_ticks)
ax1b.set_yticklabels([str(v) for v in yield_ticks])
ax1b.yaxis.set_minor_locator(MultipleLocator(0.4))
ax1b.tick_params(axis='y', which='major', direction='out', length=7, width=1.2, color=SPINE,
                 labelsize=BIG, labelcolor=TXT, pad=7)
ax1b.tick_params(axis='y', which='minor', direction='out', length=4, width=1, color=SPINE)
for s in ('top', 'left', 'bottom'):
    ax1b.spines[s].set_visible(False)
ax1b.spines['right'].set_color(SPINE)
ax1b.spines['right'].set_linewidth(1.4)

fig.text(687 / W, 1 - 26 / H, title_text, ha='center', va='center', fontsize=16.5, color=TXT)
fig.text(687 / W, 1 - 62 / H, date_text, ha='center', va='center', fontsize=13.2, color=TXT)

# ================= lower-left =================
ax2 = axes_px(87.3, 721, 1284.5, 1149)
ax2.set_xlim(1980, 2026.3)
ax2.set_ylim(-1, 1)
grid_h(ax2, [1.0, 0.5, -0.5], '#c4c4c4')
grid_v(ax2, year_ticks, '#cfcfcf')
ax2.axhline(0, color='#bdbdbd', lw=1.8, zorder=2)
ax2.plot(cf_t, cf_v, color='black', lw=3.0, zorder=4, solid_joinstyle='round')
ax2.plot(cfm_t, cfm_v, color=BLUE, lw=1.8, zorder=5)
for tr in (trend_flat, trend_upper, trend_lower):
    tx, tv = unzip(tr)
    ax2.plot(tx, tv, color=ORANGE, lw=3.2, dashes=(2.8, 1.0), zorder=6, solid_capstyle='butt')
ax2.yaxis.tick_right()
ax2.set_yticks(left_ticks)
ax2.set_yticklabels([f'{v:.1f}' for v in left_ticks])
ax2.yaxis.set_minor_locator(MultipleLocator(0.1))
ax2.tick_params(axis='y', which='major', direction='out', length=7, width=1.2, color=SPINE,
                labelsize=BIG, labelcolor=TXT, pad=7)
ax2.tick_params(axis='y', which='minor', direction='out', length=4, width=1, color=SPINE)
ax2.set_xticks(year_ticks)
ax2.set_xticklabels([str(v) for v in year_ticks])
ax2.xaxis.set_minor_locator(MultipleLocator(1))
ax2.tick_params(axis='x', which='major', direction='out', length=8, width=1.2, color=SPINE,
                labelsize=BIG, labelcolor=TXT, pad=5)
ax2.tick_params(axis='x', which='minor', direction='out', length=4, width=1, color=SPINE)
for s in ('top', 'left'):
    ax2.spines[s].set_visible(False)
ax2.spines['right'].set_color(SPINE)
ax2.spines['right'].set_linewidth(1.4)
ax2.spines['bottom'].set_color('#8a8a8a')
ax2.spines['bottom'].set_linewidth(1.6)

# legend of the lower-left panel
fig.add_artist(plt.Line2D([100 / W, 148 / W], [1 - 1232 / H, 1 - 1232 / H],
                          color='black', lw=3.2, transform=fig.transFigure))
fig.text(158 / W, 1 - 1232 / H, legend_text, ha='left', va='center', fontsize=16.4, color=TXT)

# ================= right panels =================
SM = 12
SMY = 11
ZX0, ZX1 = 2019.322, 2021.578
year_centres = [(ZX0 + 2020.0) / 2, 2020.5, (2021.0 + ZX1) / 2]
quarters = [2019.5, 2019.75, 2020.25, 2020.5, 2020.75, 2021.25, 2021.5]


def style_zoom_x(ax):
    ax.set_xlim(ZX0, ZX1)
    ax.set_xticks([2020.0, 2021.0])
    ax.set_xticklabels(['', ''])
    ax.xaxis.set_minor_locator(FixedLocator(quarters))
    ax.xaxis.set_minor_formatter(NullFormatter())
    ax.tick_params(axis='x', which='major', direction='out', length=8, width=1.2, color=SPINE)
    ax.tick_params(axis='x', which='minor', direction='out', length=4, width=1, color=SPINE)
    for xc, lab in zip(year_centres, zoom_years):
        ax.annotate(lab, xy=(xc, 0), xycoords=('data', 'axes fraction'), xytext=(0, -24),
                    textcoords='offset points', ha='center', va='center',
                    fontsize=SMY, color=TXT)


def style_zoom_left(ax):
    ax.set_ylim(-0.8, 0.8)
    ax.set_yticks(zoom_left_ticks)
    ax.set_yticklabels([f'{v:.1f}' for v in zoom_left_ticks])
    ax.yaxis.set_minor_locator(MultipleLocator(0.04))
    ax.tick_params(axis='y', which='major', direction='out', length=4, width=1, color=SPINE,
                   labelsize=SM, labelcolor=TXT, pad=3)
    ax.tick_params(axis='y', which='minor', direction='out', length=2, width=0.8, color=SPINE)
    grid_h(ax, [v for v in zoom_left_ticks if v != 0.0], '#9a9a9a')
    grid_v(ax, [2020.0, 2021.0], '#b0b0b0')
    ax.axhline(0, color='#4a4a4a', lw=1.3, zorder=2)
    for s in ('top',):
        ax.spines[s].set_visible(False)
    for s in ('left', 'bottom', 'right'):
        ax.spines[s].set_color(SPINE)
        ax.spines[s].set_linewidth(1.2)


# ---- upper-right ----
ax3 = axes_px(1411.3, 96, 1975.4, 606)
style_zoom_left(ax3)
style_zoom_x(ax3)
ax3.plot(cf_t, cf_v, color=ORANGE, lw=2.0, zorder=3)
ax3b = ax3.twinx()
ax3b.set_ylim(0, 3)
ax3b.set_yticks(zoom_yield_ticks)
ax3b.set_yticklabels([f'{v:.1f}' for v in zoom_yield_ticks])
ax3b.yaxis.set_minor_locator(MultipleLocator(0.1))
ax3b.tick_params(axis='y', which='major', direction='out', length=4, width=1, color=SPINE,
                 labelsize=SM, labelcolor=TXT, pad=3)
ax3b.tick_params(axis='y', which='minor', direction='out', length=2, width=0.8, color=SPINE)
for s in ('top', 'left', 'bottom'):
    ax3b.spines[s].set_visible(False)
ax3b.spines['right'].set_color(SPINE)
ax3b.spines['right'].set_linewidth(1.2)
ax3b.plot(yl_t, yl_v, color=BLUE, lw=1.3, zorder=4)
ax3b.plot(ys_t, ys_v, color=LBLUE, lw=1.1, zorder=4)
ax3b.plot(yd_t, yd_v, color='black', lw=1.9, zorder=5)
ax3b.set_xlim(ZX0, ZX1)

fig.text(1692 / W, 1 - 29 / H, title_text, ha='center', va='center', fontsize=8.2, color=TXT)
fig.text(1692 / W, 1 - 63 / H, date_text, ha='center', va='center', fontsize=6.6, color=TXT)

# ---- lower-right ----
ax4 = axes_px(1411.3, 721, 1974, 1191)
style_zoom_left(ax4)
style_zoom_x(ax4)
ax4.plot(cl_t, cl_v, color=BLUE, lw=1.4, zorder=4)
ax4.plot(cs_t, cs_v, color=LBLUE, lw=1.1, zorder=4)
ax4.plot(cf_t, cf_v, color='black', lw=2.4, zorder=5)
ax4b = ax4.twinx()
ax4b.set_ylim(-0.8, 0.8)
ax4b.set_yticks(zoom_left_ticks)
ax4b.set_yticklabels([f'{v:.1f}' for v in zoom_left_ticks])
ax4b.yaxis.set_minor_locator(MultipleLocator(0.04))
ax4b.tick_params(axis='y', which='major', direction='out', length=4, width=1, color=SPINE,
                 labelsize=SM, labelcolor=TXT, pad=3)
ax4b.tick_params(axis='y', which='minor', direction='out', length=2, width=0.8, color=SPINE)
for s in ('top', 'left', 'bottom'):
    ax4b.spines[s].set_visible(False)
ax4b.spines['right'].set_color(SPINE)
ax4b.set_xlim(ZX0, ZX1)

# ---------------- panel frames ----------------
fig.add_artist(Rectangle((12 / W, -0.02), (1360 - 12) / W, 1.02 - 6 / H, fill=False,
                         ec='#555555', lw=1.6, transform=fig.transFigure))
fig.add_artist(Rectangle((1375 / W, -0.02), (2009 - 1375) / W, 1.02 - 6 / H, fill=False,
                         ec='#555555', lw=1.6, transform=fig.transFigure))
fig.text(1352 / W, 1 - 1261 / H, source_text, ha='right', va='center', fontsize=2.5, color='#888888')
fig.text(2004 / W, 1 - 1261 / H, source_text, ha='right', va='center', fontsize=2.5, color='#888888')

fig.savefig('out.png', dpi=100)
